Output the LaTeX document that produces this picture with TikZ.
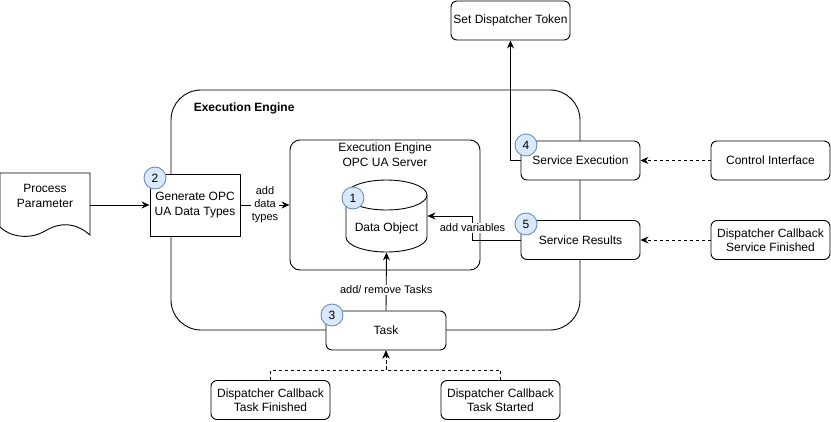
\documentclass[tikz,border=0pt]{standalone}
\usepackage{fontspec}
\setmainfont{Liberation Sans}
\usepackage{xcolor}
\usetikzlibrary{arrows.meta, positioning}

\definecolor{badgefill}{HTML}{DAE8FC}
\definecolor{badgeline}{HTML}{6C8EBF}

\tikzset{
  box/.style={draw, fill=white, rounded corners=6pt, align=center, inner sep=1pt,
    minimum width=119pt, minimum height=39pt},
  badge/.style={circle, draw=badgeline, fill=badgefill, minimum size=22pt, inner sep=0pt},
  flow/.style={-{Stealth[length=8pt, width=7pt]}},
  signal/.style={flow, dash pattern=on 3pt off 3pt},
  edgetext/.style={fill=white, align=center, inner sep=1pt, font=\fontsize{11}{13}\selectfont},
}

\begin{document}
\begin{tikzpicture}[x=1pt, y=-1pt, line width=0.9pt, font=\fontsize{12}{14.4}\selectfont]

\useasboundingbox (0,0) rectangle (831,421);

% Execution engine container
\node[draw, rounded corners=30pt, minimum width=409pt, minimum height=240pt] (engine) at (375.5,210) {};
\node[anchor=west, font=\fontsize{12}{14.4}\selectfont\bfseries] (engine-title) at (190,108) {Execution Engine};

% OPC UA server
\node[draw, rounded corners=10pt, minimum width=190pt, minimum height=130pt] (server) at (385,205) {};
\node[align=center, font=\fontsize{12}{15}\selectfont] (server-title) at (385,155) {Execution Engine\\OPC UA Server};

% Data object (cylinder)
\node[minimum width=81pt, minimum height=72pt, inner sep=0pt] (dataobj) at (386.5,216) {};
\draw[fill=white] (346,195) -- (346,237) arc[start angle=180, end angle=0, x radius=40.5, y radius=15] -- (427,195);
\draw[fill=white] (386.5,195) ellipse [x radius=40.5, y radius=15];
\node (dataobj-text) at (386.5,228) {Data Object};

% Process parameter (document)
\node[minimum width=90pt, minimum height=62pt, inner sep=0pt] (procparam) at (45,205) {};
\draw[fill=white] (0,173) -- (90,173) -- (90,235)
  .. controls (75,222) and (60,222) .. (45,231)
  .. controls (30,240) and (10,237) .. (0,227) -- cycle;
\node[align=center] (procparam-text) at (45,196) {Process\\Parameter};

% Boxes
\node[box, rounded corners=0pt, minimum width=90pt, minimum height=62pt] (gen) at (195,205) {Generate OPC\\UA Data Types};
\node[box] (svcexec) at (580.5,160.5) {Service Execution};
\node[box] (svcres) at (580.5,240) {Service Results};
\node[box] (control) at (770.5,160.5) {Control Interface};
\node[box] (svcdone) at (770.5,240) {Dispatcher Callback\\Service Finished};
\node[box] (token) at (510.5,20.5) {Set Dispatcher Token};
\node[box, minimum width=120pt] (task) at (386,330.5) {Task};
\node[box] (taskdone) at (270.5,400) {Dispatcher Callback\\Task Finished};
\node[box] (taskstart) at (500.5,400) {Dispatcher Callback\\Task Started};

% Badges
\node[badge] (b1) at (353,198) {1};
\node[badge] (b2) at (155,178) {2};
\node[badge] (b3) at (332,315) {3};
\node[badge] (b4) at (526,145) {4};
\node[badge] (b5) at (526,224) {5};

% Connectors
\draw[flow] (procparam.east) -- (gen.west);
\draw[flow] (gen.east) -- node[edgetext] {add\\data\\types} (server.west);
\draw[flow] (svcexec.west) -| (token.south);
\draw[flow] (svcres.west) -- ++(-48,0) |- node[edgetext, pos=0.25] {add variables} (dataobj.east);
\draw[flow] (task.north) -- node[edgetext, pos=0.36] {add/ remove Tasks} (dataobj.south);

% Callbacks
\draw[signal] (control.west) -- (svcexec.east);
\draw[signal] (svcdone.west) -- (svcres.east);
\draw[signal] (taskdone.north) -- ++(0,-10) -| (task.south);
\draw[signal] (taskstart.north) -- ++(0,-10) -| (task.south);

\end{tikzpicture}
\end{document}
